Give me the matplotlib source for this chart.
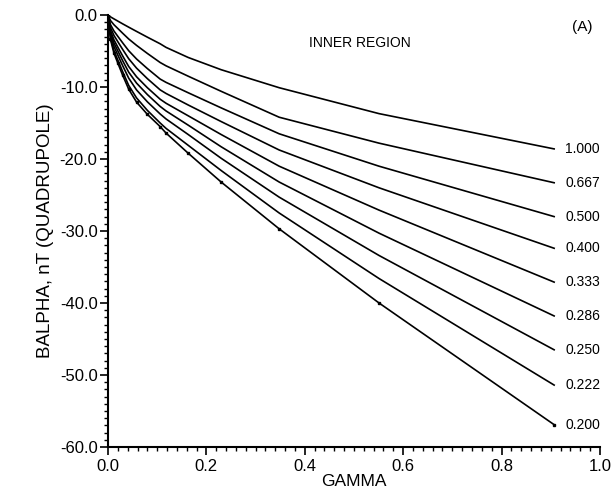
import numpy as np
import matplotlib
matplotlib.use("Agg")
import matplotlib.pyplot as plt
from matplotlib.ticker import MultipleLocator, FormatStrFormatter

plt.rcParams['font.family'] = ['Liberation Sans', 'DejaVu Sans']

# gamma sample points (shared by all curves)
gamma = [0.0, 0.005, 0.012, 0.02, 0.03, 0.042, 0.058, 0.08, 0.106, 0.118, 0.163, 0.230, 0.348, 0.551, 0.907]

# curve labels (right side)
labels = ["1.000", "0.667", "0.500", "0.400", "0.333", "0.286", "0.250", "0.222", "0.200"]

# balpha, nT
b_1000 = [0.0, -0.26, -0.54, -0.85, -1.24, -1.69, -2.28, -3.08, -4.0, -4.5, -5.9, -7.6, -10.1, -13.7, -18.6]
b_0667 = [0.0, -0.77, -1.35, -1.88, -2.55, -3.33, -4.22, -5.34, -6.6, -7.06, -8.5, -10.6, -14.2, -17.8, -23.3]
b_0500 = [0.0, -1.34, -2.22, -2.97, -3.89, -4.96, -6.11, -7.44, -8.9, -9.36, -10.8, -12.9, -16.5, -21.0, -28.0]
b_0400 = [0.0, -1.75, -2.83, -3.72, -4.81, -6.07, -7.38, -8.84, -10.4, -10.9, -12.5, -14.8, -18.75, -24.0, -32.4]
b_0333 = [0.0, -2.17, -3.45, -4.47, -5.72, -7.15, -8.58, -10.1, -11.7, -12.26, -14.0, -16.6, -21.0, -27.1, -37.1]
b_0286 = [0.0, -2.46, -3.89, -5.0, -6.38, -7.94, -9.46, -11.05, -12.7, -13.33, -15.3, -18.3, -23.2, -30.3, -41.8]
b_0250 = [0.0, -2.79, -4.36, -5.58, -7.07, -8.77, -10.41, -12.06, -13.75, -14.44, -16.6, -19.9, -25.3, -33.4, -46.5]
b_0222 = [0.0, -3.17, -4.94, -6.27, -7.91, -9.78, -11.52, -13.25, -15.0, -15.75, -18.1, -21.6, -27.5, -36.6, -51.4]
b_0200 = [0.0, -3.4, -5.3, -6.7, -8.4, -10.3, -12.1, -13.8, -15.5, -16.4, -19.2, -23.2, -29.7, -40.0, -56.9]

curves = [b_1000, b_0667, b_0500, b_0400, b_0333, b_0286, b_0250, b_0222, b_0200]

fig = plt.figure(figsize=(6.11, 4.98), dpi=100)
ax = fig.add_axes([0.1768, 0.1024, 0.805, 0.8675])

for i, (lab, vals) in enumerate(zip(labels, curves)):
    if i == len(curves) - 1:
        # only the lowest curve shows its sample points
        ax.plot(gamma, vals, color='black', lw=1.2, marker='s', ms=1.6)
    else:
        ax.plot(gamma, vals, color='black', lw=1.2)
    ax.text(0.93, vals[-1], lab, fontsize=10, va='center', ha='left')

ax.set_xlim(0, 1.0)
ax.set_ylim(-60, 0)
ax.spines['top'].set_visible(False)
ax.spines['right'].set_visible(False)
ax.spines['left'].set_linewidth(1.5)
ax.spines['bottom'].set_linewidth(1.5)

ax.xaxis.set_major_locator(MultipleLocator(0.2))
ax.xaxis.set_minor_locator(MultipleLocator(0.02))
ax.yaxis.set_major_locator(MultipleLocator(10))
ax.yaxis.set_minor_locator(MultipleLocator(1))
ax.xaxis.set_major_formatter(FormatStrFormatter('%.1f'))
ax.yaxis.set_major_formatter(FormatStrFormatter('%.1f'))
ax.tick_params(which='major', direction='out', length=5.5, width=1.2, labelsize=12, pad=2)
ax.tick_params(which='minor', direction='out', length=3, width=1.0)
ax.tick_params(axis='x', which='major', pad=3)

ax.set_xlabel("GAMMA", fontsize=12.5, labelpad=0)
ax.set_ylabel("BALPHA, nT (QUADRUPOLE)", fontsize=13.5, labelpad=4)

ax.text(0.512, -3.9, "INNER REGION", fontsize=10, ha='center', va='center')
ax.text(0.965, -1.7, "(A)", fontsize=11, ha='center', va='center')

fig.savefig("out.png", dpi=100)
